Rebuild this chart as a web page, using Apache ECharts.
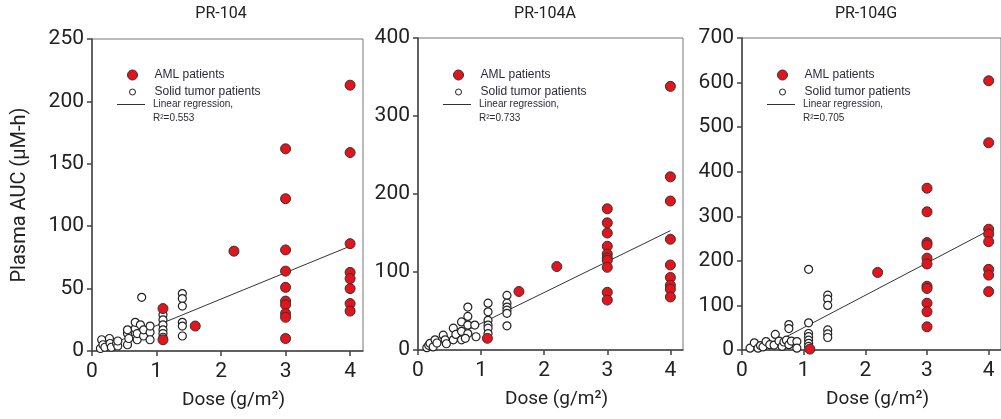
<!DOCTYPE html>
<html>
<head>
<meta charset="utf-8">
<script src="https://cdn.jsdelivr.net/npm/echarts@6/dist/echarts.min.js"></script>
<style>html,body{margin:0;padding:0;background:#fff}#c{width:1001px;height:419px}</style>
</head>
<body>
<div id="c"></div>
<script>
// ---- data ----
const panelTitles = ['PR-104', 'PR-104A', 'PR-104G'];
const doseTicks = [0, 1, 2, 3, 4];
const yMax = [250, 400, 700];
const yStep = [50, 100, 100];
const r2Labels = ['0.553', '0.733', '0.705'];

const p1Aml = [[1.1,34],[1.1,9],[1.6,20],[2.2,80],
  [3,162],[3,122],[3,81],[3,64],[3,51],[3,40],[3,37],[3,30],[3,27],[3,10],
  [4,213],[4,159],[4,86],[4,63],[4,58],[4,50],[4,38],[4,32]];
const p1Solid = [[0.13,2],[0.15,9],[0.17,5],[0.2,3],[0.27,10],[0.28,6],[0.3,3],[0.38,6],[0.4,4],[0.4,8],
  [0.55,5],[0.55,14],[0.57,10],[0.55,17],[0.67,18],[0.67,23],[0.7,9],[0.7,14],[0.75,21],[0.77,43],
  [0.8,12],[0.8,17],[0.9,15],[0.9,9],[0.9,20],
  [1.1,29],[1.1,25],[1.1,21],[1.1,17],[1.1,14],[1.1,11],
  [1.4,46],[1.4,42],[1.4,36],[1.4,23],[1.4,20],[1.4,12]];
const p1Reg = [[0.13,2],[4,84]];

const p2Aml = [[1.1,15],[1.6,75],[2.2,107],
  [3,181],[3,163],[3,150],[3,133],[3,123],[3,118],[3,115],[3,106],[3,74],[3,64],
  [4,338],[4,222],[4,191],[4,142],[4,109],[4,93],[4,83],[4,78],[4,68]];
const p2Solid = [[0.14,3],[0.17,6],[0.19,8.5],[0.24,4],[0.27,13],[0.3,9],[0.4,19],[0.43,13],[0.45,8],
  [0.56,28],[0.56,13],[0.6,20],[0.69,36],[0.69,24],[0.69,13],[0.79,55],[0.79,43],[0.79,32],[0.79,21],[0.75,15],
  [0.9,32],[0.92,17],
  [1.11,60],[1.11,49],[1.11,38],[1.11,32],[1.11,28],[1.11,21],
  [1.41,70],[1.41,60],[1.41,55],[1.41,51],[1.41,47],[1.41,31]];
const p2Reg = [[0.14,0],[4,153]];

const p3Aml = [[1.1,2],[2.2,174],
  [3,363],[3,310],[3,241],[3,236],[3,206],[3,193],[3,143],[3,138],[3,105],[3,86],[3,52],
  [4,604],[4,465],[4,271],[4,260],[4,243],[4,181],[4,168],[4,131]];
const p3Solid = [[0.13,4],[0.2,16],[0.26,4],[0.3,10],[0.34,7],[0.39,19],[0.45,12],[0.52,11],[0.54,35],[0.6,20],
  [0.65,8],[0.68,18],[0.72,22],[0.76,57],[0.76,48],[0.76,12],[0.8,20],[0.89,19],[0.89,4],
  [1.08,181],[1.08,61],[1.08,37],[1.08,30],[1.08,22],[1.08,15],[1.08,8],
  [1.39,123],[1.39,114],[1.39,100],[1.39,45],[1.39,36],[1.39,28]];
const p3Reg = [[0.35,3],[4,268]];

const amlSets = [p1Aml, p2Aml, p3Aml];
const solidSets = [p1Solid, p2Solid, p3Solid];
const regSets = [p1Reg, p2Reg, p3Reg];

// ---- layout ----
const grids = [
  {left: 92, top: 39, width: 271, height: 312},
  {left: 418, top: 38, width: 265, height: 312},
  {left: 742, top: 38, width: 266, height: 312}
];
const titleX = [221, 545, 866];
const legendX = [117, 443, 767];

const axisFont = 'Liberation Sans Narrow, Arial Narrow, Roboto, sans-serif';
const legFont = 'Liberation Sans, Arial, sans-serif';
const AML = 'AML patients', SOLID = 'Solid tumor patients';
const regName = i => 'Linear regression, R\u00b2=' + r2Labels[i];
const legColor = '#2b2b3a';

const option = {
  animation: false,
  backgroundColor: '#fff',
  title: panelTitles.map((t, i) => ({
    text: t, left: titleX[i], top: 6, padding: 0, textAlign: 'center',
    textStyle: {fontFamily: axisFont, fontSize: 16, fontWeight: 'normal', color: '#222'}
  })),
  grid: grids.map(g => Object.assign({show: true, borderColor: '#777', borderWidth: 1, containLabel: false}, g)),
  xAxis: grids.map((g, i) => ({
    gridIndex: i, type: 'value', min: 0, max: 4.2, interval: 1,
    name: 'Dose (g/m\u00b2)', nameLocation: 'middle', nameGap: 40,
    nameTextStyle: {fontFamily: axisFont, fontSize: 19, color: '#222', padding: [0, 0, 0, 12]},
    axisLine: {show: true, onZero: false, lineStyle: {color: '#444', width: 1.5}},
    axisTick: {show: true, length: 5, inside: false, customValues: doseTicks, lineStyle: {color: '#444', width: 1.5}},
    axisLabel: {customValues: doseTicks, margin: 10, fontFamily: axisFont, fontSize: 21, color: '#222',
      formatter: v => (Number.isInteger(v) ? String(v) : '')},
    splitLine: {show: false}
  })),
  yAxis: grids.map((g, i) => ({
    gridIndex: i, type: 'value', min: 0, max: yMax[i], interval: yStep[i],
    name: i === 0 ? 'Plasma AUC (\u03bcM-h)' : '', nameLocation: 'middle', nameGap: 62,
    nameTextStyle: {fontFamily: axisFont, fontSize: 20, color: '#222'},
    axisLine: {show: true, onZero: false, lineStyle: {color: '#444', width: 1.5}},
    axisTick: {show: true, length: 5, lineStyle: {color: '#444', width: 1.5}},
    axisLabel: {margin: 8, fontFamily: axisFont, fontSize: 21, color: '#222'},
    splitLine: {show: false}
  })),
  legend: [],
  series: []
};

for (let i = 0; i < 3; i++) {
  option.series.push({
    name: regName(i), type: 'line', xAxisIndex: i, yAxisIndex: i, data: regSets[i],
    showSymbol: false, symbol: 'none', lineStyle: {color: '#333', width: 1}, itemStyle: {color: '#333'}, z: 2
  });
  option.series.push({
    name: SOLID, type: 'scatter', xAxisIndex: i, yAxisIndex: i, data: solidSets[i],
    symbol: 'circle', symbolSize: 8,
    itemStyle: {color: '#fff', borderColor: '#222', borderWidth: 1.2, opacity: 1}, z: 3
  });
  option.series.push({
    name: AML, type: 'scatter', xAxisIndex: i, yAxisIndex: i, data: amlSets[i],
    symbol: 'circle', symbolSize: 10,
    itemStyle: {color: '#e3141c', borderColor: '#333', borderWidth: 1, opacity: 1}, z: 4
  });
  const lx = legendX[i];
  const base = {orient: 'vertical', padding: 0, itemWidth: 28, selectedMode: false, inactiveColor: '#333'};
  option.legend.push(Object.assign({}, base, {
    data: [{name: AML, icon: 'circle', itemStyle: {color: '#e3141c', borderColor: '#333', borderWidth: 1}}],
    left: lx + 10, top: 69, itemHeight: 10,
    textStyle: {fontFamily: legFont, fontSize: 12, color: legColor, padding: [0, 0, 0, 3]}
  }));
  option.legend.push(Object.assign({}, base, {
    data: [{name: SOLID, icon: 'circle', itemStyle: {color: '#fff', borderColor: '#222', borderWidth: 1}}],
    left: lx + 12, top: 86, itemHeight: 6,
    textStyle: {fontFamily: legFont, fontSize: 12, color: legColor, padding: [0, 0, 0, 3]}
  }));
  option.legend.push(Object.assign({}, base, {
    data: [{name: regName(i), icon: 'rect', itemStyle: {color: '#333', borderWidth: 0}}],
    left: lx, top: 83.5, itemHeight: 1,
    formatter: n => '\n' + n.replace(', ', ',\n'),
    textStyle: {fontFamily: legFont, fontSize: 10, lineHeight: 14, color: legColor, padding: [0, 0, 0, 3]}
  }));
}

const chart = echarts.init(document.getElementById('c'), null, {renderer: 'canvas'});
chart.setOption(option);
</script>
</body>
</html>
